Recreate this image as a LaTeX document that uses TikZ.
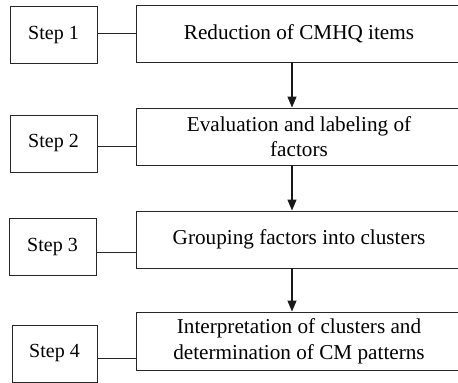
\documentclass[tikz,border=0pt]{standalone}
\usepackage{fontspec}
\setmainfont{Liberation Serif}
\usetikzlibrary{arrows.meta}
\begin{document}
\begin{tikzpicture}[x=1pt,y=1pt,
  stepbox/.style={draw=black!85, line width=0.9pt, minimum width=87pt, minimum height=57pt, inner sep=0pt,
    font=\fontsize{20}{25.7}\selectfont},
  mainbox/.style={draw=black!85, line width=0.9pt, minimum width=326pt, minimum height=57pt, inner sep=0pt,
    align=center, font=\fontsize{21.2}{25.7}\selectfont},
  link/.style={draw=black!85, line width=0.9pt},
  arr/.style={draw=black!90, line width=1.3pt, -{Triangle[width=9pt,length=11pt]}}]
\useasboundingbox (0,0) rectangle (458,383);
\clip (0,0) rectangle (458,383);
% step boxes
\node[stepbox] (s1) at (53.5,348) {Step 1};
\node[stepbox] (s2) at (53.5,239.5) {Step 2};
\node[stepbox] (s3) at (52.5,136) {Step 3};
\node[stepbox, minimum width=85pt] (s4) at (54.5,29.5) {Step 4};
% main boxes
\node[mainbox] (m1) at (299,349.5) {Reduction of CMHQ items};
\node[mainbox] (m2) at (299,246.5) {Evaluation and labeling of\\factors};
\node[mainbox] (m3) at (299,143.5) {Grouping factors into clusters};
\node[mainbox, minimum height=58pt] (m4) at (299,42) {Interpretation of clusters and\\determination of CM patterns};
% connector levels
\coordinate (c1) at (0,350);
\coordinate (c2) at (0,237);
\coordinate (c3) at (0,131);
\coordinate (c4) at (0,25);
\coordinate (ax) at (292,0);
\draw[link] (s1.east |- c1) -- (m1.west |- c1);
\draw[link] (s2.east |- c2) -- (m2.west |- c2);
\draw[link] (s3.east |- c3) -- (m3.west |- c3);
\draw[link] (s4.east |- c4) -- (m4.west |- c4);
% arrows
\draw[arr] (m1.south -| ax) -- (m2.north -| ax);
\draw[arr] (m2.south -| ax) -- (m3.north -| ax);
\draw[arr] (m3.south -| ax) -- (m4.north -| ax);
\end{tikzpicture}
\end{document}
